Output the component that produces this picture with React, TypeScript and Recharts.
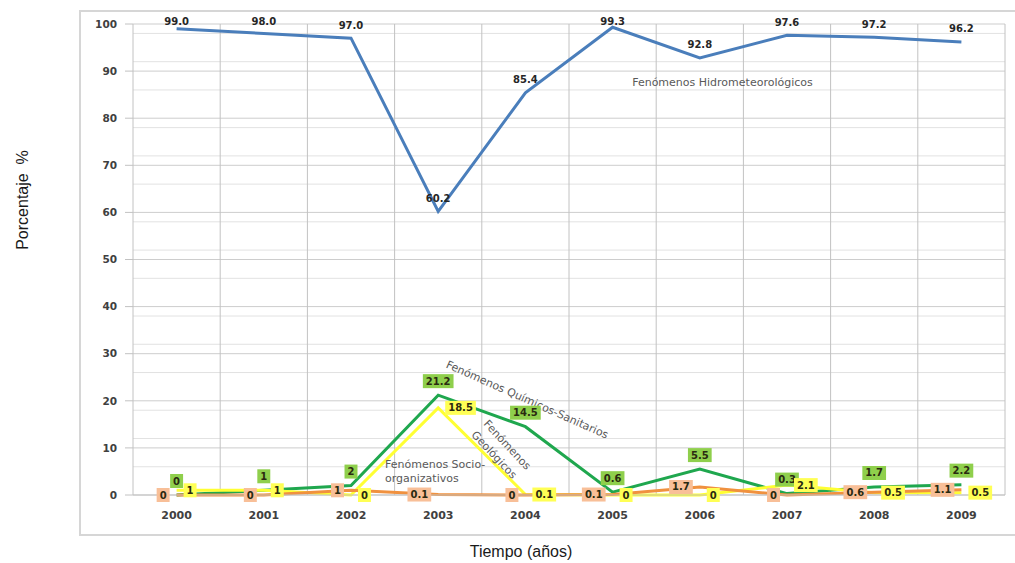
import { LineChart, Line, XAxis, YAxis, CartesianGrid, LabelList, ReferenceDot } from 'recharts';

const years: string[] = ['2000', '2001', '2002', '2003', '2004', '2005', '2006', '2007', '2008', '2009'];

// porcentaje de cada tipo de fenomeno por año
const hidro: number[] = [99.0, 98.0, 97.0, 60.2, 85.4, 99.3, 92.8, 97.6, 97.2, 96.2];
const quimicos: number[] = [0, 1, 2, 21.2, 14.5, 0.6, 5.5, 0.3, 1.7, 2.2];
const geologicos: number[] = [1, 1, 0, 18.5, 0.1, 0, 0, 2.1, 0.5, 0.5];
const socio: number[] = [0, 0, 1, 0.1, 0, 0.1, 1.7, 0, 0.6, 1.1];

const yTicks: number[] = [0, 10, 20, 30, 40, 50, 60, 70, 80, 90, 100];
const minorLines: number[] = [2, 4, 6, 8, 12, 14, 16, 18, 22, 24, 26, 28, 32, 34, 36, 38, 42, 44, 46, 48,
  52, 54, 56, 58, 62, 64, 66, 68, 72, 74, 76, 78, 82, 84, 86, 88, 92, 94, 96, 98];
const xTicks: number[] = [0, 1, 2, 3, 4, 5, 6, 7, 8, 9];
const bandEdges: number[] = [0.5, 1.5, 2.5, 3.5, 4.5, 5.5, 6.5, 7.5, 8.5, 9.5];

const data = years.map((year, i) => ({
  idx: i,
  year,
  hidro: hidro[i],
  quimicos: quimicos[i],
  geologicos: geologicos[i],
  socio: socio[i],
}));

const colors = { hidro: '#4a7ebb', quimicos: '#1fa74e', geologicos: '#ffff33', socio: '#f0913f' };
const labelBg = { quimicos: '#8fcf4c', geologicos: '#ffff55', socio: '#f8bf98' };

const labelFont = { fontFamily: 'DejaVu Sans', fontSize: 10, fontWeight: 700 };
const noteFont = { fontFamily: 'DejaVu Sans', fontSize: 11, fill: '#595959' };

const boxWidth = (s: string) => s.split('').reduce((w, c) => w + (c === '.' ? 3.8 : 6.96), 0) + 6;

const pos = (p: any) => ({
  x: p.x ?? p.viewBox?.x ?? 0,
  y: p.y ?? p.viewBox?.y ?? 0,
});

const TopValue = (props: any) => {
  const { x, y } = pos(props);
  return (
    <text x={x} y={Math.max(y - 13, 21)} textAnchor="middle" dominantBaseline="central" fill="#262626" style={labelFont}>
      {Number(props.value).toFixed(1)}
    </text>
  );
};

const BoxLabel = (props: any) => {
  const { x, y } = pos(props);
  const s = String(props.value);
  const w = boxWidth(s);
  const h = 14;
  let cx = x;
  let cy = y;
  if (props.side === 'top') cy = y - 14;
  if (props.side === 'right') cx = x + 7 + w / 2;
  if (props.side === 'left') cx = x - 7 - w / 2;
  return (
    <g>
      <rect x={cx - w / 2} y={cy - h / 2} width={w} height={h} fill={props.bg} />
      <text x={cx} y={cy} textAnchor="middle" dominantBaseline="central" fill="#2a2a10" style={labelFont}>{s}</text>
    </g>
  );
};

// textos sueltos dentro del area del grafico
const Note = (props: any) => {
  const vb = props.viewBox || {};
  const cx = (vb.x ?? 0) + (vb.width ?? 0) / 2;
  const cy = (vb.y ?? 0) + (vb.height ?? 0) / 2;
  return (
    <text x={cx} y={cy} textAnchor={props.anchor || 'middle'} dominantBaseline="central" style={noteFont}
      transform={props.angle ? `rotate(${props.angle} ${cx} ${cy})` : undefined}>
      {props.text}
    </text>
  );
};

const App = () => {
  return (
    <div style={{ position: 'fixed', left: 0, top: 0, width: 1015, height: 563, background: '#fff', overflow: 'hidden' }}>
      <div style={{ position: 'absolute', left: 79, top: 10, width: 960, height: 526, border: '2px solid #d6d6d6', boxSizing: 'border-box' }} />
      <div style={{ position: 'absolute', left: 0, top: 0 }}>
        <LineChart width={1015} height={563} data={data} margin={{ top: 24, right: 10, left: 0, bottom: 0 }}>
          <CartesianGrid horizontalValues={minorLines} vertical={false} stroke="#e2e2e2" />
          <CartesianGrid horizontalValues={yTicks} vertical={false} stroke="#cdcdcd" />
          <CartesianGrid verticalValues={bandEdges} horizontal={false} stroke="#c2c2c2" />
          <XAxis
            type="number"
            dataKey="idx"
            domain={[-0.5, 9.5]}
            ticks={xTicks}
            interval={0}
            tickFormatter={(v: number) => years[v]}
            height={68}
            tickLine={false}
            tickSize={6}
            tickMargin={10}
            axisLine={{ stroke: '#c2c2c2' }}
            tick={{ fill: '#404040', fontFamily: 'DejaVu Sans', fontSize: 11, fontWeight: 700 }}
            label={() => (
              <text x={521} y={551} textAnchor="middle" dominantBaseline="central" fill="#1a1a1a"
                style={{ fontFamily: 'Liberation Sans', fontSize: 16 }}>Tiempo (años)</text>
            )}
          />
          <YAxis
            domain={[0, 100]}
            ticks={yTicks}
            width={133}
            tickSize={8}
            tickMargin={8}
            tickLine={{ stroke: '#c2c2c2' }}
            axisLine={{ stroke: '#c2c2c2' }}
            tick={{ fill: '#404040', fontFamily: 'DejaVu Sans', fontSize: 10.5, fontWeight: 700 }}
            label={() => (
              <text x={22} y={200} textAnchor="middle" dominantBaseline="central" fill="#1a1a1a"
                transform="rotate(-90 22 200)" style={{ fontFamily: 'Liberation Sans', fontSize: 16 }}>
                {'Porcentaje\u00a0\u00a0%'}
              </text>
            )}
          />
          <Line type="linear" dataKey="hidro" stroke={colors.hidro} strokeWidth={3} dot={false} isAnimationActive={false}>
            <LabelList dataKey="hidro" content={(p: any) => <TopValue {...p} />} />
          </Line>
          <Line type="linear" dataKey="quimicos" stroke={colors.quimicos} strokeWidth={3} dot={false} isAnimationActive={false}>
            <LabelList dataKey="quimicos" content={(p: any) => <BoxLabel {...p} side="top" bg={labelBg.quimicos} />} />
          </Line>
          <Line type="linear" dataKey="geologicos" stroke={colors.geologicos} strokeWidth={3} dot={false} isAnimationActive={false}>
            <LabelList dataKey="geologicos" content={(p: any) => <BoxLabel {...p} side="right" bg={labelBg.geologicos} />} />
          </Line>
          <Line type="linear" dataKey="socio" stroke={colors.socio} strokeWidth={3} dot={false} isAnimationActive={false}>
            <LabelList dataKey="socio" content={(p: any) => <BoxLabel {...p} side="left" bg={labelBg.socio} />} />
          </Line>
          <ReferenceDot x={6.26} y={87.5} r={0} fill="none" stroke="none"
            label={(p: any) => <Note {...p} text="Fenómenos Hidrometeorológicos" />} />
          <ReferenceDot x={4.02} y={20.2} r={0} fill="none" stroke="none"
            label={(p: any) => <Note {...p} text="Fenómenos Químicos-Sanitarios" angle={24} />} />
          <ReferenceDot x={3.79} y={10.6} r={0} fill="none" stroke="none"
            label={(p: any) => <Note {...p} text="Fenómenos" angle={47} />} />
          <ReferenceDot x={3.64} y={8.5} r={0} fill="none" stroke="none"
            label={(p: any) => <Note {...p} text="Geológicos" angle={47} />} />
          <ReferenceDot x={2.39} y={6.4} r={0} fill="none" stroke="none"
            label={(p: any) => <Note {...p} text="Fenómenos Socio-" anchor="start" />} />
          <ReferenceDot x={2.39} y={3.4} r={0} fill="none" stroke="none"
            label={(p: any) => <Note {...p} text="organizativos" anchor="start" />} />
        </LineChart>
      </div>
    </div>
  );
};

export default App;
